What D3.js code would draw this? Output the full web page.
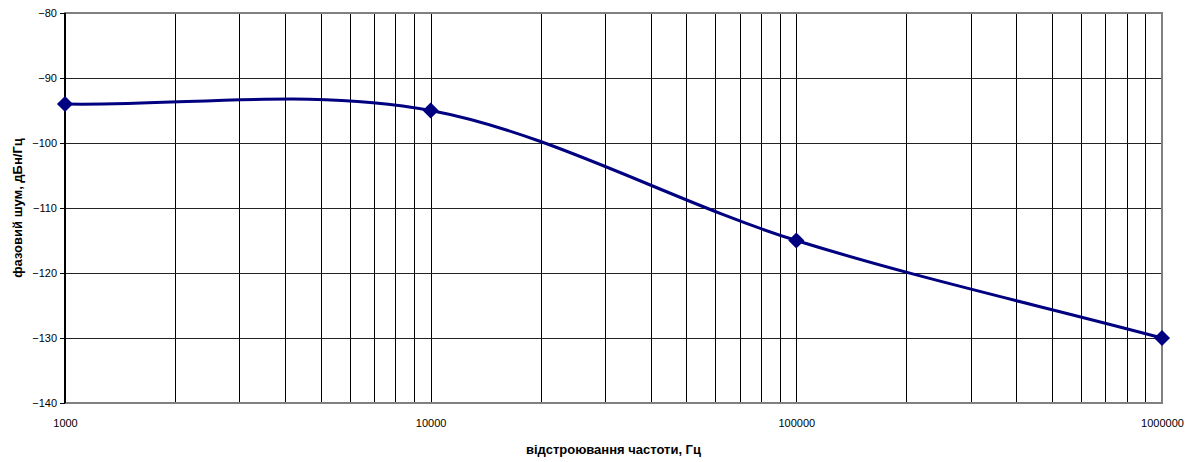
<!DOCTYPE html>
<html>
<head>
<meta charset="utf-8">
<script src="https://cdn.jsdelivr.net/npm/d3@7"></script>
<style>
  body { margin: 0; background: #fff; }
  svg { display: block; font-family: "Liberation Sans", Arial, sans-serif; }
</style>
</head>
<body>
<svg id="chart" width="1191" height="462"></svg>
<script>
// chart data
const freqs = [1000, 10000, 100000, 1000000];
const noise = [-94, -95, -115, -130];
const yTicks = [-80, -90, -100, -110, -120, -130, -140];
const xLabels = [1000, 10000, 100000, 1000000];

const plot = { left: 65, right: 1162, top: 13, bottom: 403 };

const svg = d3.select('#chart');

const x = d3.scaleLog().domain([1000, 1000000]).range([plot.left, plot.right]);
const y = d3.scaleLinear().domain([-140, -80]).range([plot.bottom, plot.top]);

// vertical grid lines: 1..9 per decade
const vGrid = [];
for (let d = 1000; d < 1000000; d *= 10) {
  for (let k = 1; k <= 9; k++) vGrid.push(d * k);
}

const g = svg.append('g');

g.selectAll('line.vgrid')
  .data(vGrid.filter(v => v > 1000))
  .enter().append('line')
  .attr('class', 'vgrid')
  .attr('x1', d => Math.round(x(d)) + 0.5)
  .attr('x2', d => Math.round(x(d)) + 0.5)
  .attr('y1', plot.top)
  .attr('y2', plot.bottom)
  .attr('stroke', '#000')
  .attr('stroke-width', 1);

g.selectAll('line.hgrid')
  .data(yTicks.filter(v => v > -140 && v < -80))
  .enter().append('line')
  .attr('class', 'hgrid')
  .attr('x1', plot.left)
  .attr('x2', plot.right)
  .attr('y1', d => Math.round(y(d)) + 0.5)
  .attr('y2', d => Math.round(y(d)) + 0.5)
  .attr('stroke', '#222')
  .attr('stroke-width', 1);

// plot border
g.append('rect')
  .attr('x', plot.left)
  .attr('y', plot.top)
  .attr('width', plot.right - plot.left)
  .attr('height', plot.bottom - plot.top)
  .attr('fill', 'none')
  .attr('stroke', '#808080')
  .attr('stroke-width', 2);

// y axis
const yAxis = d3.axisLeft(y).tickValues(yTicks).tickSize(5).tickPadding(3);
const ya = svg.append('g')
  .attr('transform', `translate(${plot.left},0)`)
  .call(yAxis);
ya.select('.domain').attr('stroke', '#000').attr('stroke-width', 2).attr('d', `M0,${plot.top}V${plot.bottom}`);
ya.selectAll('.tick line').attr('stroke', '#000');
ya.selectAll('text').attr('font-size', 11).attr('fill', '#000')
  .attr('font-family', '"Liberation Sans", Arial, sans-serif');

// x axis labels
const xAxis = d3.axisBottom(x).tickValues(xLabels).tickSize(0).tickPadding(16)
  .tickFormat(d3.format('d'));
const xa = svg.append('g')
  .attr('transform', `translate(0,${plot.bottom})`)
  .call(xAxis);
xa.select('.domain').remove();
xa.selectAll('text').attr('font-size', 11).attr('fill', '#000')
  .attr('font-family', '"Liberation Sans", Arial, sans-serif');

// smoothed line (Excel-style bezier: 1/6 tangents inside, 1/3 at the ends)
const pts = freqs.map((f, i) => [f, noise[i]]);
function smoothPath(data) {
  const p = data.map(d => [x(d[0]), y(d[1])]);
  const path = d3.path();
  path.moveTo(p[0][0], p[0][1]);
  for (let i = 0; i < p.length - 1; i++) {
    const a = p[i], b = p[i + 1];
    let c1, c2;
    if (i === 0) c1 = [a[0] + (b[0] - a[0]) / 3, a[1] + (b[1] - a[1]) / 3];
    else c1 = [a[0] + (b[0] - p[i - 1][0]) / 6, a[1] + (b[1] - p[i - 1][1]) / 6];
    if (i + 2 >= p.length) c2 = [b[0] - (b[0] - a[0]) / 3, b[1] - (b[1] - a[1]) / 3];
    else c2 = [b[0] - (p[i + 2][0] - a[0]) / 6, b[1] - (p[i + 2][1] - a[1]) / 6];
    path.bezierCurveTo(c1[0], c1[1], c2[0], c2[1], b[0], b[1]);
  }
  return path.toString();
}

svg.append('path')
  .attr('d', smoothPath(pts))
  .attr('fill', 'none')
  .attr('stroke', '#000080')
  .attr('stroke-width', 3);

// diamond markers
const diamond = d3.symbol().type(d3.symbolDiamond2).size(165);
svg.selectAll('path.marker')
  .data(pts)
  .enter().append('path')
  .attr('class', 'marker')
  .attr('d', diamond)
  .attr('transform', d => `translate(${x(d[0])},${y(d[1])})`)
  .attr('fill', '#000080');

// axis titles
svg.append('text')
  .attr('x', (plot.left + plot.right) / 2)
  .attr('y', 454)
  .attr('text-anchor', 'middle')
  .attr('font-size', 13)
  .attr('font-weight', 'bold')
  .text('відстроювання частоти, Гц');

svg.append('text')
  .attr('transform', `translate(22,${(plot.top + plot.bottom) / 2}) rotate(-90)`)
  .attr('text-anchor', 'middle')
  .attr('font-size', 13)
  .attr('font-weight', 'bold')
  .text('фазовий шум, дБн/Гц');
</script>
</body>
</html>
